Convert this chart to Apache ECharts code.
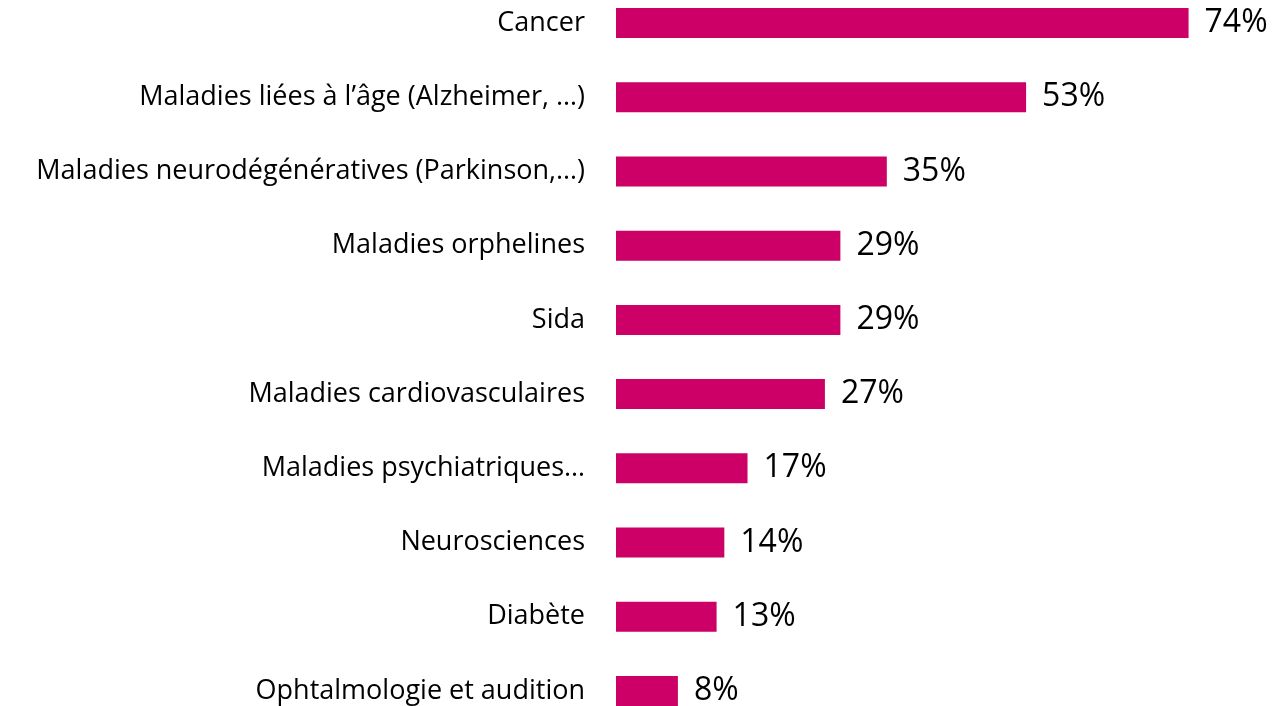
<!DOCTYPE html>
<html>
<head>
<meta charset="utf-8">
<style>
  html, body { margin: 0; padding: 0; background: #fff; }
  #chart { width: 1274px; height: 706px; }
</style>
<script src="https://cdn.jsdelivr.net/npm/echarts@6/dist/echarts.min.js"></script>
</head>
<body>
<div id="chart"></div>
<script>
// données
var categories = [
  'Cancer',
  'Maladies liées à l’âge (Alzheimer, …)',
  'Maladies neurodégénératives (Parkinson,…)',
  'Maladies orphelines',
  'Sida',
  'Maladies cardiovasculaires',
  'Maladies psychiatriques…',
  'Neurosciences',
  'Diabète',
  'Ophtalmologie et audition'
];
var values = [74, 53, 35, 29, 29, 27, 17, 14, 13, 8];

var chart = echarts.init(document.getElementById('chart'));
chart.setOption({
  animation: false,
  grid: { left: 616, right: 39, top: 23, bottom: 15 },
  xAxis: {
    type: 'value',
    min: 0,
    max: 80,
    show: false
  },
  yAxis: {
    type: 'category',
    data: categories,
    inverse: true,
    boundaryGap: false,
    axisLine: { show: false },
    axisTick: { show: false },
    splitLine: { show: false },
    axisLabel: {
      margin: 31,
      color: '#000',
      fontFamily: 'Open Sans',
      fontSize: 27
    }
  },
  series: [{
    type: 'bar',
    data: values,
    barWidth: 30,
    itemStyle: { color: '#CC0066' },
    label: {
      show: true,
      position: 'right',
      distance: 16,
      formatter: '{c}%',
      color: '#000',
      fontFamily: 'Open Sans',
      fontSize: 32
    }
  }]
});
</script>
</body>
</html>
